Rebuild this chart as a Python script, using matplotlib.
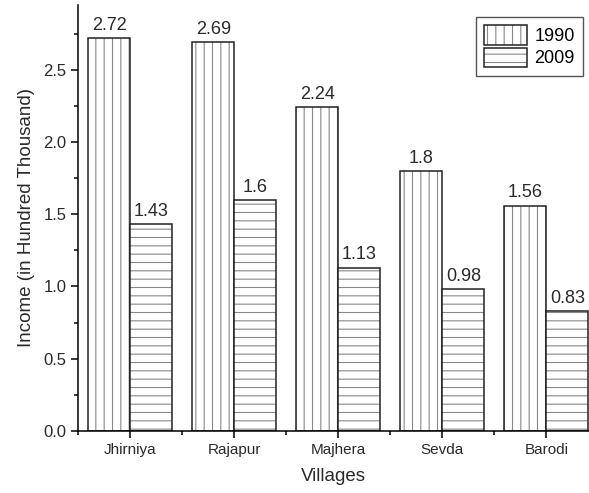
import matplotlib.pyplot as plt
import numpy as np
from matplotlib.ticker import MultipleLocator

villages = ['Jhirniya', 'Rajapur', 'Majhera', 'Sevda', 'Barodi']
income_1990 = [2.72, 2.69, 2.24, 1.8, 1.56]
income_2009 = [1.43, 1.6, 1.13, 0.98, 0.83]

plt.rcParams['font.family'] = ['Liberation Sans', 'DejaVu Sans']
plt.rcParams['hatch.linewidth'] = 0.8

fig = plt.figure(figsize=(5.89, 4.93), dpi=100)
ax = fig.add_axes([0.133, 0.126, 0.867, 0.864])

x = np.arange(len(villages))
w = 0.404
hatch_col = '#888888'
txt = '#2a2a2a'

# hatched fill (grey lines) then a black outline on top
h1 = ax.bar(x - w / 2, income_1990, w, color='white', edgecolor=hatch_col, hatch='||', linewidth=0)
o1 = ax.bar(x - w / 2, income_1990, w, fill=False, edgecolor='#222222', linewidth=1.1)
h2 = ax.bar(x + w / 2, income_2009, w, color='white', edgecolor=hatch_col, hatch='--', linewidth=0)
o2 = ax.bar(x + w / 2, income_2009, w, fill=False, edgecolor='#222222', linewidth=1.1)

for xi, v in zip(x - w / 2, income_1990):
    ax.text(xi, v + 0.03, f'{v:g}', ha='center', va='bottom', fontsize=13, color=txt)
for xi, v in zip(x + w / 2, income_2009):
    ax.text(xi, v + 0.03, f'{v:g}', ha='center', va='bottom', fontsize=13, color=txt)

ax.set_xlim(-0.5, 4.41)
ax.set_ylim(0, 2.95)
ax.set_xticks(x)
ax.set_xticklabels(villages, fontsize=11, color=txt)
ax.xaxis.set_minor_locator(MultipleLocator(1, offset=0.5))
ax.yaxis.set_major_locator(MultipleLocator(0.5))
ax.yaxis.set_minor_locator(MultipleLocator(0.25))
ax.tick_params(axis='y', labelsize=12, labelcolor=txt)
ax.tick_params(which='major', length=5, width=1.1, direction='out')
ax.tick_params(which='minor', length=3, width=1.1, direction='out')
ax.spines['top'].set_visible(False)
ax.spines['right'].set_visible(False)
ax.spines['left'].set_linewidth(1.1)
ax.spines['bottom'].set_linewidth(1.1)

ax.set_xlabel('Villages', fontsize=13.5, color=txt, labelpad=8)
ax.set_ylabel('Income (in Hundred Thousand)', fontsize=13.5, color=txt, labelpad=6)

leg = ax.legend([(h1[0], o1[0]), (h2[0], o2[0])], ['1990', '2009'],
                loc='upper right', bbox_to_anchor=(0.988, 0.972), fontsize=13,
                fancybox=False, edgecolor='#555555', framealpha=1,
                handlelength=2.4, handleheight=1.3, borderpad=0.45,
                labelspacing=0.15, handletextpad=0.4, borderaxespad=0)
leg.get_frame().set_linewidth(1.0)

fig.savefig('out.png', dpi=100)
